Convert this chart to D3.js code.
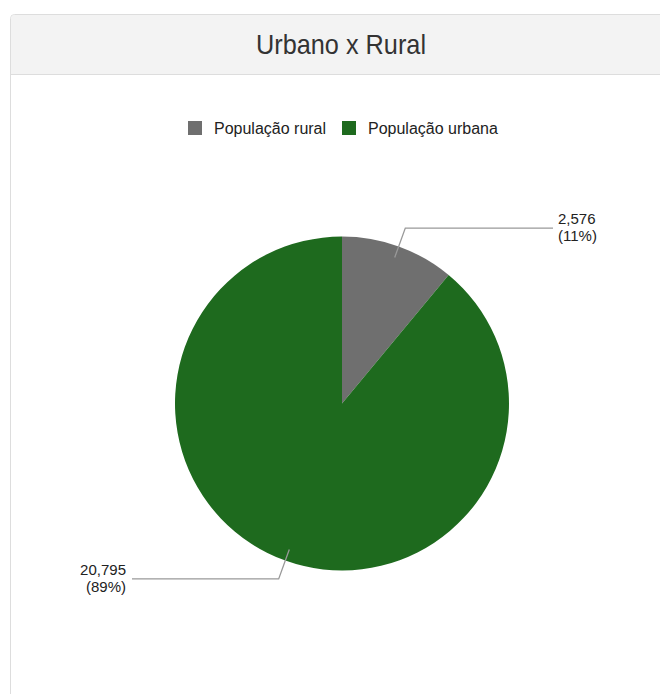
<!DOCTYPE html>
<html><head><meta charset="utf-8">
<script src="https://cdn.jsdelivr.net/npm/d3@7"></script>
<style>
body{margin:0;background:#fff;}
text{font-family:"Liberation Sans",Arial,sans-serif;}
</style></head>
<body><svg id="c" width="660" height="694"></svg>
<script>
const categories = ["População rural", "População urbana"];
const values = [2576, 20795];
const colors = ["#6f6f6f", "#1e6a1e"];
const title = "Urbano x Rural";

const svg = d3.select("#c");
// panel
svg.append("path")
  .attr("d", "M10.5,700 L10.5,18.5 Q10.5,14.5 14.5,14.5 L670,14.5 L670,700")
  .attr("fill", "#fff").attr("stroke", "#dddddd");
svg.append("path")
  .attr("d", "M11,74 L11,19 Q11,15 15,15 L670,15 L670,74 Z")
  .attr("fill", "#f3f3f3");
svg.append("line").attr("x1", 11).attr("x2", 660).attr("y1", 74.5).attr("y2", 74.5).attr("stroke", "#dddddd");
svg.append("text").attr("x", 341).attr("y", 54).attr("text-anchor", "middle")
  .attr("font-size", 28).attr("textLength", 170).attr("lengthAdjust", "spacingAndGlyphs")
  .attr("fill", "#333").text(title);

// legend
const legX = [188, 342];
categories.forEach((c, i) => {
  svg.append("rect").attr("x", legX[i]).attr("y", 121).attr("width", 14).attr("height", 14).attr("fill", colors[i]);
  svg.append("text").attr("x", legX[i] + 26).attr("y", 134).attr("font-size", 16).attr("fill", "#222").text(c);
});

// pie
const cx = 342, cy = 403.5, r = 167;
const pie = d3.pie().sort(null).value(d => d)(values);
const arc = d3.arc().innerRadius(0).outerRadius(r);
const g = svg.append("g").attr("transform", `translate(${cx},${cy})`);
g.selectAll("path").data(pie).enter().append("path")
  .attr("d", arc).attr("fill", (d, i) => colors[i]);

const total = d3.sum(values);
const fmt = d3.format(",");
const lineX = [553 - cx, 132 - cx];
pie.forEach((d, i) => {
  const a = (d.startAngle + d.endAngle) / 2;
  const p1 = [0.93 * r * Math.sin(a), -0.93 * r * Math.cos(a)];
  const p2 = [1.117 * r * Math.sin(a), -1.117 * r * Math.cos(a)];
  const right = Math.sin(a) > 0;
  const p3 = [lineX[i], p2[1]];
  g.append("polyline").attr("points", [p1, p2, p3].map(p => p.join(",")).join(" "))
    .attr("fill", "none").attr("stroke", "#999").attr("stroke-width", 1.3);
  const tx = right ? p3[0] + 5 : p3[0] - 6;
  const t = g.append("text").attr("text-anchor", right ? "start" : "end")
    .attr("font-size", 15).attr("fill", "#222");
  t.append("tspan").attr("x", tx).attr("y", p3[1] - 4).text(fmt(values[i]));
  t.append("tspan").attr("x", tx).attr("y", p3[1] + 13).text("(" + Math.round(values[i] / total * 100) + "%)");
});
</script></body></html>
